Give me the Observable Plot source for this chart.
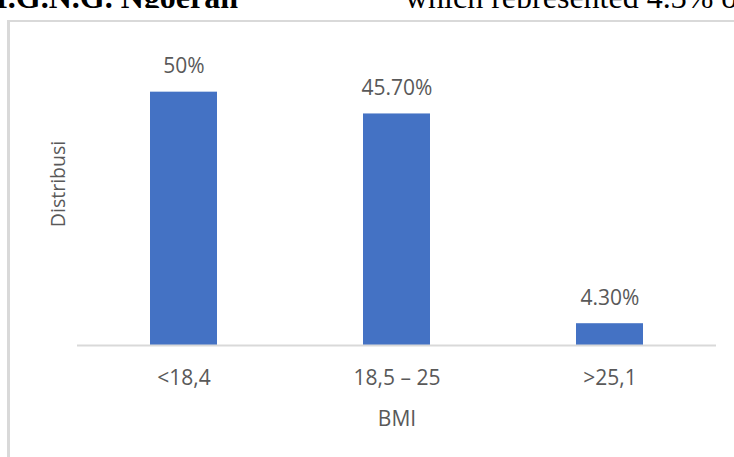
<!DOCTYPE html>
<html><head><meta charset="utf-8">
<script src="https://cdn.jsdelivr.net/npm/d3@7"></script>
<script src="https://cdn.jsdelivr.net/npm/@observablehq/plot@0.6"></script>
<style>
html,body{margin:0;padding:0;background:#fff;}
#page{position:relative;width:734px;height:457px;overflow:hidden;background:#fff;}
.doc{position:absolute;top:-19px;font-family:"Liberation Serif",serif;font-size:32px;line-height:32px;color:#000;white-space:nowrap;}
#cover{position:absolute;left:0;top:8px;width:734px;height:449px;background:#fff;}
#frame{position:absolute;left:7px;top:12px;width:800px;height:500px;border-left:3px solid #d9d9d9;border-top:2px solid #d9d9d9;}
#chart{position:absolute;left:0;top:0;}
</style>
</head><body>
<div id="page">
  <div class="doc" style="right:496px;font-weight:bold;">I.G.N.G. Ngoerah</div>
  <div class="doc" style="left:405px;">which represented 4.3% of</div>
  <div id="cover"><div id="frame"></div></div>
  <div id="chart"></div>
</div>
<script>
const categories = ["<18,4", "18,5 – 25", ">25,1"];
const values = [50, 45.7, 4.3];
const valueLabels = ["50%", "45.70%", "4.30%"];
const xTitle = "BMI";
const yTitle = "Distribusi";

const data = categories.map((c, i) => ({cat: c, val: values[i], label: valueLabels[i]}));

const chart = Plot.plot({
  width: 734,
  height: 457,
  marginLeft: 77,
  marginRight: 18,
  marginTop: 41,
  marginBottom: 112,
  style: {fontFamily: "'Open Sans', sans-serif", fontSize: "21px", color: "#595959", background: "transparent", overflow: "visible"},
  x: {type: "band", domain: categories, paddingInner: 0.685, paddingOuter: 0.3425, axis: null},
  y: {domain: [0, 60], axis: null},
  marks: [
    Plot.barY(data, {x: "cat", y: "val", fill: "#4472c4"}),
    Plot.ruleY([0], {stroke: "#d9d9d9", strokeWidth: 2}),
    Plot.text(data, {x: "cat", y: "val", text: "label", dy: -25.7, fill: "#595959", fontSize: 21}),
    Plot.axisX({tickSize: 0, tickPadding: 25, fontSize: 21, fill: "#595959", label: null}),
    Plot.text([xTitle], {frameAnchor: "bottom", lineAnchor: "middle", textAnchor: "middle", dy: 73.3, fill: "#595959", fontSize: 21}),
    Plot.text([yTitle], {frameAnchor: "left", lineAnchor: "middle", textAnchor: "middle", rotate: -90, dx: -19, dy: -9.5, fill: "#595959", fontSize: 19.5})
  ]
});
document.getElementById("chart").appendChild(chart);
</script>
</body></html>
